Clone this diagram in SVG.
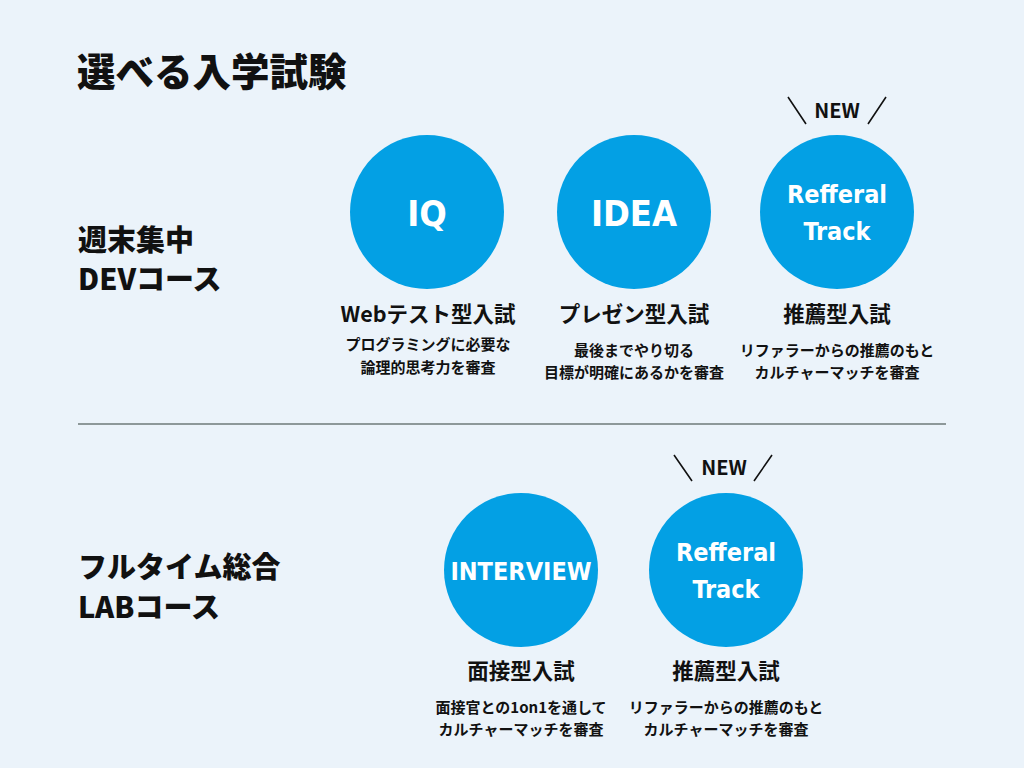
<svg xmlns="http://www.w3.org/2000/svg" width="1024" height="768" viewBox="0 0 1024 768">
<defs>
<style>
.t{font-family:"Noto Sans CJK JP","Noto Sans",sans-serif;font-weight:700;fill:#111}
.h{font-weight:900}
.c{fill:#03A0E4}
.ct{font-family:"DejaVu Sans","Noto Sans",sans-serif;font-stretch:condensed;font-weight:700;fill:#fff;text-anchor:middle}
.lb{font-size:21.5px;text-anchor:middle}
.ds{font-size:15px;text-anchor:middle}
.sl{stroke:#111;stroke-width:1.6;fill:none}
</style>
</defs>
<rect width="1024" height="768" fill="#EBF3FA"/>
<text class="t h" x="77" y="86" font-size="38.5">選べる入学試験</text>
<text class="t h" x="78" y="251" font-size="29">週末集中</text>
<text class="t h" x="78" y="290" font-size="29">DEVコース</text>
<text class="t h" x="78" y="578" font-size="29">フルタイム総合</text>
<text class="t h" x="78" y="618" font-size="29">LABコース</text>
<g id="connectors">
<line x1="78" y1="424" x2="946" y2="424" stroke="#6E7A78" stroke-width="1.5"/>
</g>
<g id="iq">
<circle class="c" cx="427" cy="212" r="77"/>
<text class="ct" x="427" y="226" font-size="36">IQ</text>
<text class="t lb" x="428" y="322">Webテスト型入試</text>
<text class="t ds" x="428" y="350">プログラミングに必要な</text>
<text class="t ds" x="428" y="373">論理的思考力を審査</text>
</g>
<g id="idea">
<circle class="c" cx="634" cy="212" r="77"/>
<text class="ct" x="634" y="226" font-size="36">IDEA</text>
<text class="t lb" x="634" y="322">プレゼン型入試</text>
<text class="t ds" x="634" y="356">最後までやり切る</text>
<text class="t ds" x="634" y="378">目標が明確にあるかを審査</text>
</g>
<g id="ref1">
<path class="sl" d="M788 97 L806 124 M868 124 L886 97"/>
<text class="t" x="837" y="118" font-size="20" text-anchor="middle">NEW</text>
<circle class="c" cx="837" cy="212" r="77"/>
<text class="ct" x="837" y="203" font-size="25">Refferal</text>
<text class="ct" x="837" y="240" font-size="25">Track</text>
<text class="t lb" x="837" y="322">推薦型入試</text>
<text class="t ds" x="837" y="356">リファラーからの推薦のもと</text>
<text class="t ds" x="837" y="378">カルチャーマッチを審査</text>
</g>
<g id="interview">
<circle class="c" cx="521" cy="570" r="77"/>
<text class="ct" x="521" y="580" font-size="25">INTERVIEW</text>
<text class="t lb" x="521" y="679">面接型入試</text>
<text class="t ds" x="521" y="713">面接官との1on1を通して</text>
<text class="t ds" x="521" y="735">カルチャーマッチを審査</text>
</g>
<g id="ref2">
<path class="sl" d="M674 455 L692 481 M754 481 L772 455"/>
<text class="t" x="724" y="475" font-size="20" text-anchor="middle">NEW</text>
<circle class="c" cx="726" cy="570" r="77"/>
<text class="ct" x="726" y="561" font-size="25">Refferal</text>
<text class="ct" x="726" y="598" font-size="25">Track</text>
<text class="t lb" x="726" y="679">推薦型入試</text>
<text class="t ds" x="726" y="713">リファラーからの推薦のもと</text>
<text class="t ds" x="726" y="735">カルチャーマッチを審査</text>
</g>
</svg>
